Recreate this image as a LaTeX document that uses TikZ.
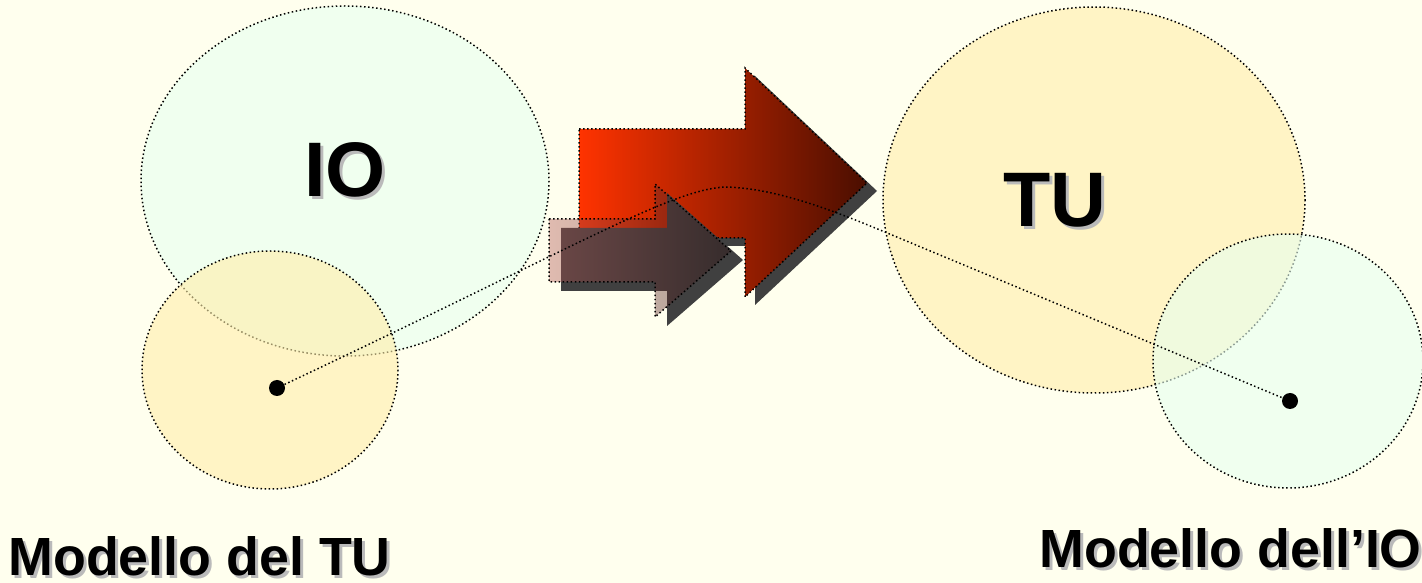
\documentclass[tikz,border=0pt]{standalone}
\usepackage{fontspec}
\setmainfont{Liberation Sans}
\usetikzlibrary{calc}

\definecolor{bgcol}{HTML}{FFFFEE}
\definecolor{mint}{HTML}{E6FFF0}
\definecolor{sand}{HTML}{FFEEAA}
\definecolor{redL}{HTML}{FF3300}
\definecolor{redM}{HTML}{BB2800}
\definecolor{redR}{HTML}{4A0E00}
\definecolor{roseL}{HTML}{B15553}
\definecolor{roseR}{HTML}{281010}
\definecolor{shadowgray}{HTML}{404040}

\begin{document}
\begin{tikzpicture}[x=0.2mm, y=-0.2mm,
    outline/.style={dash pattern=on 0.85pt off 1.45pt, line width=0.85pt},
    bigtext/.style={font=\bfseries\fontsize{44}{44}\selectfont, inner sep=0pt},
    captext/.style={font=\bfseries\fontsize{30.6}{31}\selectfont, inner sep=0pt, anchor=base west},
    ghost/.style={text=black!27},
    dot/.style={circle, fill=black, inner sep=0pt, minimum size=3.2mm}]

    % Background
    \fill[bgcol] (0,0) rectangle (1422,583);
    \useasboundingbox (0,0) rectangle (1422,583);

    % Ellipses
    \draw[outline, fill=mint, fill opacity=0.6] (345,181) ellipse [x radius=204, y radius=175];
    \draw[outline, fill=sand, fill opacity=0.6] (270,370) ellipse [x radius=128, y radius=119];
    \draw[outline, fill=sand, fill opacity=0.6] (1094,200) ellipse [x radius=211, y radius=193];
    \draw[outline, fill=mint, fill opacity=0.6] (1288,361) ellipse [x radius=135, y radius=127];

    % Big arrow
    \fill[shadowgray, shift={(10,8)}] (579,129) -- (745,129) -- (745,68) -- (867,183)
        -- (745,297) -- (745,238) -- (579,238) -- cycle;
    \draw[outline, left color=redL, middle color=redM, right color=redR] (579,129) -- (745,129)
        -- (745,68) -- (867,183) -- (745,297) -- (745,238) -- (579,238) -- cycle;

    % Small arrow
    \fill[shadowgray, shift={(12,9)}] (549,219) -- (655,219) -- (655,184) -- (731,251)
        -- (655,317) -- (655,282) -- (549,282) -- cycle;
    \draw[outline, left color=roseL, right color=roseR, fill opacity=0.4] (549,219) -- (655,219)
        -- (655,184) -- (731,251) -- (655,317) -- (655,282) -- (549,282) -- cycle;

    % Dots and link
    \node[dot] (dotL) at (277,388) {};
    \node[dot] (dotR) at (1290,401) {};
    \coordinate (peak) at (725,187);
    \coordinate (bend) at (880,230);
    \draw[outline] (dotL) .. controls (580,245) and (670,190) .. (peak)
        .. controls (770,188) and (820,205) .. (bend) -- (dotR);

    % Labels
    \node[bigtext, ghost] (ioshadow) at (348,173) {IO};
    \node[bigtext] (io) at (345,170) {IO};
    \node[bigtext, ghost] (tushadow) at (1058,203) {TU};
    \node[bigtext] (tu) at (1055,200) {TU};

    \node[captext, ghost] (leftcapshadow) at (11,578) {Modello del TU};
    \node[captext] (leftcap) at (8,575) {Modello del TU};
    \node[captext, ghost] (rightcapshadow) at (1042,570) {Modello dell’IO};
    \node[captext] (rightcap) at (1039,567) {Modello dell’IO};
\end{tikzpicture}
\end{document}
